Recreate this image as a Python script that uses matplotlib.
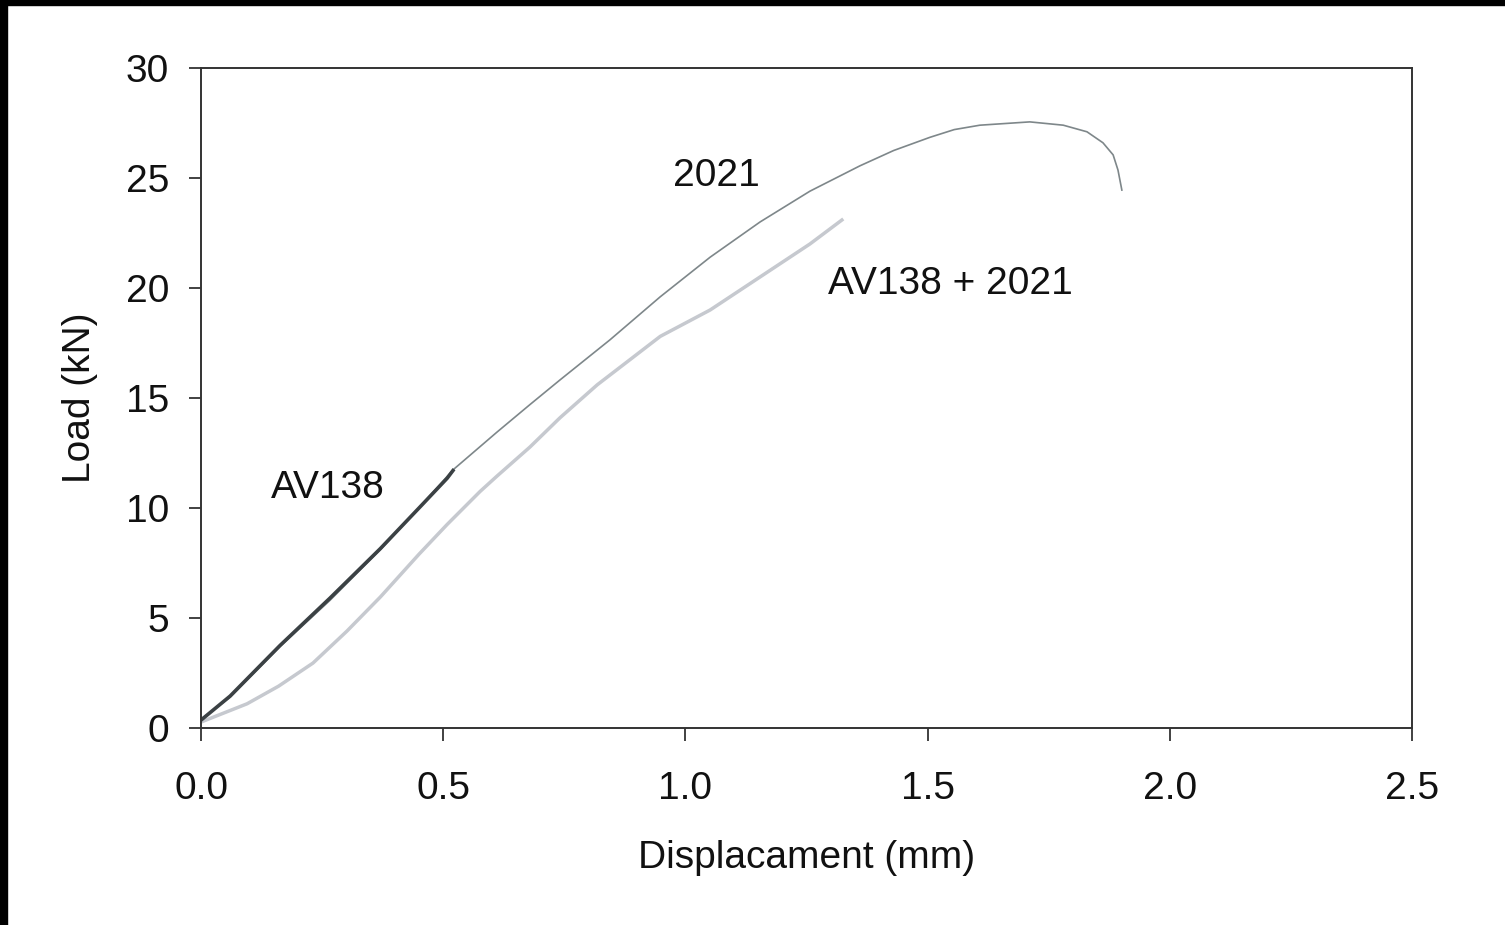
import numpy as np
import matplotlib
matplotlib.use("Agg")
import matplotlib.pyplot as plt
from matplotlib.patches import Rectangle

plt.rcParams['font.family'] = ['Liberation Sans', 'DejaVu Sans']

# curves (displacement mm, load kN)
disp_2021 = [0, 0.06, 0.163, 0.266, 0.37, 0.45, 0.52, 0.611, 0.679, 0.741, 0.844,
             0.948, 1.051, 1.154, 1.257, 1.36, 1.43, 1.505, 1.555, 1.608, 1.711, 1.78,
             1.829, 1.862, 1.883, 1.893, 1.901]
load_2021 = [0.4, 1.4, 3.7, 5.8, 8.1, 10.0, 11.73, 13.45, 14.7, 15.82, 17.64,
             19.6, 21.4, 23.0, 24.4, 25.55, 26.25, 26.85, 27.2, 27.4, 27.55, 27.4,
             27.1, 26.6, 26.05, 25.36, 24.45]

disp_mix = [0, 0.095, 0.16, 0.231, 0.301, 0.37, 0.45, 0.508, 0.576, 0.611, 0.679,
            0.741, 0.818, 0.886, 0.948, 1.051, 1.154, 1.257, 1.323]
load_mix = [0.27, 1.1, 1.9, 2.95, 4.4, 5.95, 7.9, 9.25, 10.75, 11.45, 12.77,
            14.1, 15.6, 16.75, 17.8, 19.0, 20.5, 22.0, 23.09]

disp_av = [0, 0.06, 0.163, 0.266, 0.37, 0.45, 0.508, 0.52]
load_av = [0.36, 1.45, 3.75, 5.9, 8.15, 10.0, 11.35, 11.7]

xticks = [0.0, 0.5, 1.0, 1.5, 2.0, 2.5]
yticks = [0, 5, 10, 15, 20, 25, 30]

fig = plt.figure(figsize=(15.05, 9.25), dpi=100)
ax = fig.add_axes([0.1336, 0.2130, 0.8046, 0.7135])

ax.plot(disp_mix, load_mix, color='#c6c9cf', lw=2.5)
ax.plot(disp_2021, load_2021, color='#7e878a', lw=1.2)
ax.plot(disp_av, load_av, color='#3b4144', lw=2.6)

ax.text(1.063, 25.1, '2021', fontsize=28, ha='center', va='center', color='#111111')
ax.text(1.546, 20.2, 'AV138 + 2021', fontsize=28, ha='center', va='center', color='#111111')
ax.text(0.262, 10.9, 'AV138', fontsize=28, ha='center', va='center', color='#111111')

ax.set_xlim(0, 2.5)
ax.set_ylim(0, 30)
ax.set_xticks(xticks)
ax.set_xticklabels(['%.1f' % v for v in xticks])
ax.set_yticks(yticks)
ax.tick_params(axis='both', direction='out', length=9, width=1.3, labelsize=28,
               color='#333333', labelcolor='#111111')
ax.tick_params(axis='x', pad=22)
ax.tick_params(axis='y', pad=14)
for s in ax.spines.values():
    s.set_linewidth(1.4)
    s.set_color('#333333')

ax.set_xlabel('Displacament (mm)', fontsize=28, labelpad=24, color='#111111')
ax.set_ylabel('Load (kN)', fontsize=28, labelpad=20, color='#111111')

# black strips on the left and top edges of the scan
fig.patches.append(Rectangle((0, 0), 7 / 1505, 1, transform=fig.transFigure,
                             color='black', zorder=10))
fig.patches.append(Rectangle((0, 1 - 5 / 925), 1, 5 / 925, transform=fig.transFigure,
                             color='black', zorder=10))

fig.savefig('out.png', dpi=100)
